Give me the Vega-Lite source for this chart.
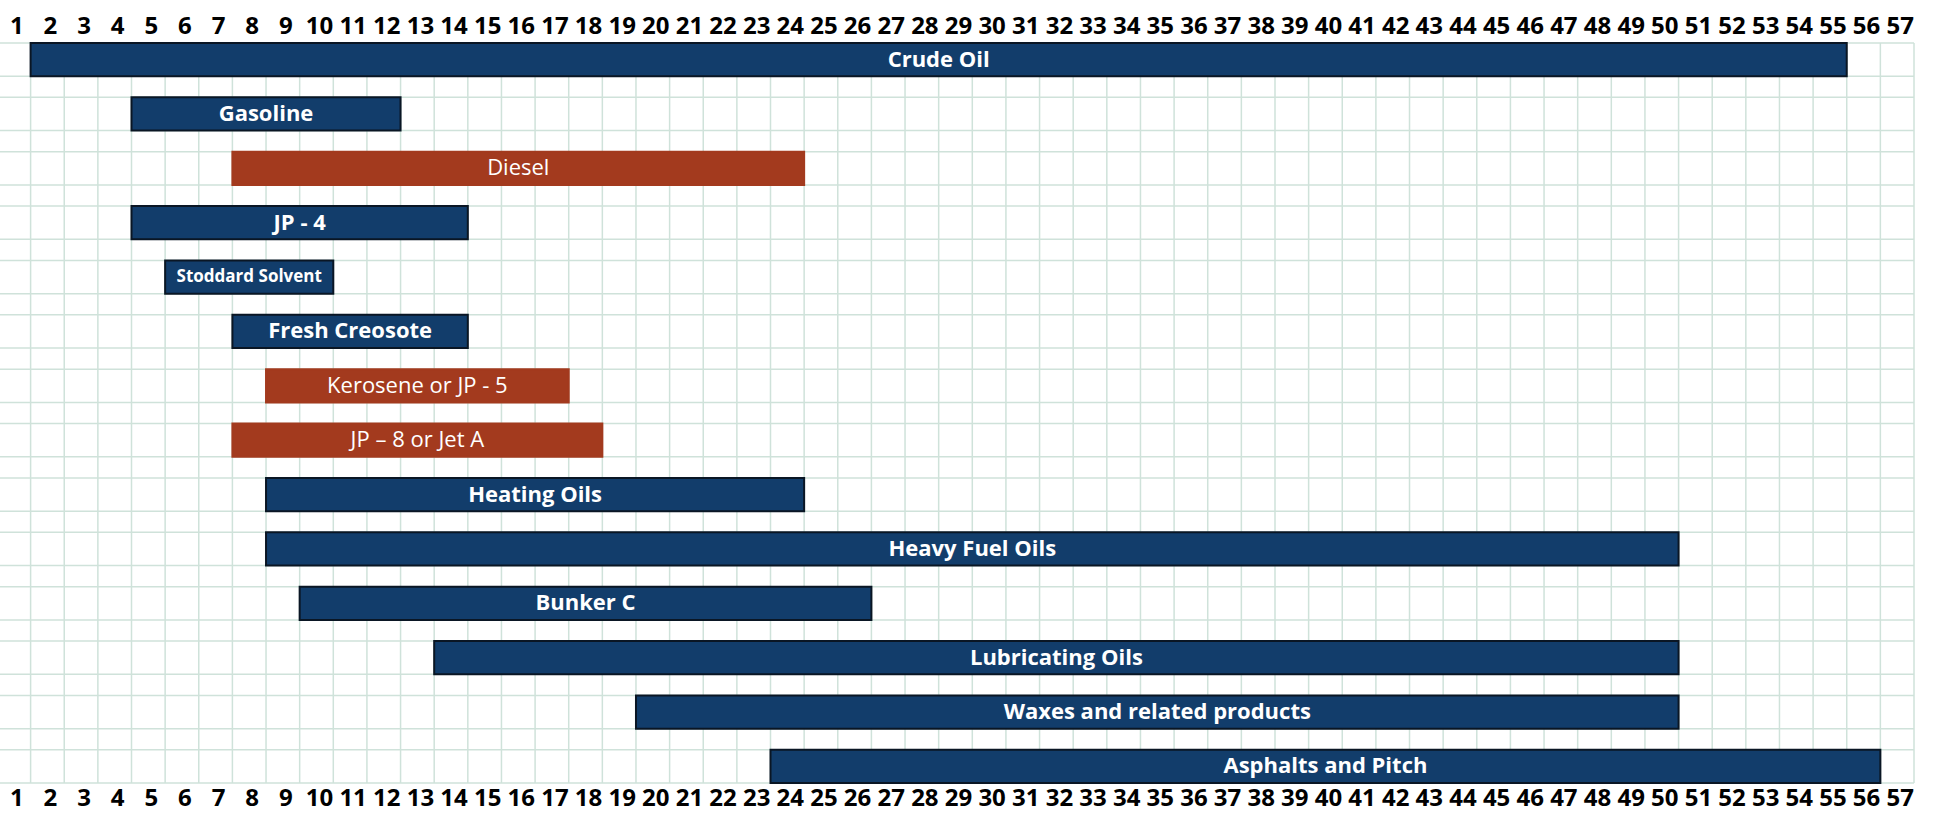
{
  "$schema": "https://vega.github.io/schema/vega-lite/v6.json",
  "width": 1914,
  "height": 740,
  "autosize": {"type": "none"},
  "padding": {"left": 0, "top": 43, "right": 20, "bottom": 34},
  "background": "white",
  "config": {"view": {"stroke": null}, "font": "Open Sans"},
  "datasets": {
    "products": [
      {"product": "Crude Oil", "lo": 1.5, "hi": 55.5, "mid": 28.5, "category": "Other"},
      {"product": "Gasoline", "lo": 4.5, "hi": 12.5, "mid": 8.5, "category": "Other"},
      {"product": "Diesel", "lo": 7.5, "hi": 24.5, "mid": 16, "category": "Highlighted"},
      {"product": "JP - 4", "lo": 4.5, "hi": 14.5, "mid": 9.5, "category": "Other"},
      {"product": "Stoddard Solvent", "lo": 5.5, "hi": 10.5, "mid": 8, "category": "Other"},
      {"product": "Fresh Creosote", "lo": 7.5, "hi": 14.5, "mid": 11, "category": "Other"},
      {"product": "Kerosene or JP - 5", "lo": 8.5, "hi": 17.5, "mid": 13, "category": "Highlighted"},
      {"product": "JP – 8 or Jet A", "lo": 7.5, "hi": 18.5, "mid": 13, "category": "Highlighted"},
      {"product": "Heating Oils", "lo": 8.5, "hi": 24.5, "mid": 16.5, "category": "Other"},
      {"product": "Heavy Fuel Oils", "lo": 8.5, "hi": 50.5, "mid": 29.5, "category": "Other"},
      {"product": "Bunker C", "lo": 9.5, "hi": 26.5, "mid": 18, "category": "Other"},
      {"product": "Lubricating Oils", "lo": 13.5, "hi": 50.5, "mid": 32, "category": "Other"},
      {"product": "Waxes and related products", "lo": 19.5, "hi": 50.5, "mid": 35, "category": "Other"},
      {"product": "Asphalts and Pitch", "lo": 23.5, "hi": 56.5, "mid": 40, "category": "Other"}
    ],
    "grid": [
      {"c": 1.5}, {"c": 2.5}, {"c": 3.5}, {"c": 4.5}, {"c": 5.5}, {"c": 6.5}, {"c": 7.5}, {"c": 8.5}, {"c": 9.5}, {"c": 10.5},
      {"c": 11.5}, {"c": 12.5}, {"c": 13.5}, {"c": 14.5}, {"c": 15.5}, {"c": 16.5}, {"c": 17.5}, {"c": 18.5}, {"c": 19.5}, {"c": 20.5},
      {"c": 21.5}, {"c": 22.5}, {"c": 23.5}, {"c": 24.5}, {"c": 25.5}, {"c": 26.5}, {"c": 27.5}, {"c": 28.5}, {"c": 29.5}, {"c": 30.5},
      {"c": 31.5}, {"c": 32.5}, {"c": 33.5}, {"c": 34.5}, {"c": 35.5}, {"c": 36.5}, {"c": 37.5}, {"c": 38.5}, {"c": 39.5}, {"c": 40.5},
      {"c": 41.5}, {"c": 42.5}, {"c": 43.5}, {"c": 44.5}, {"c": 45.5}, {"c": 46.5}, {"c": 47.5}, {"c": 48.5}, {"c": 49.5}, {"c": 50.5},
      {"c": 51.5}, {"c": 52.5}, {"c": 53.5}, {"c": 54.5}, {"c": 55.5}, {"c": 56.5}, {"c": 57.5}
    ]
  },
  "resolve": {"axis": {"x": "independent"}},
  "layer": [
    {
      "data": {"name": "grid"},
      "mark": {"type": "rule", "color": "#cfe2da", "strokeWidth": 1.5},
      "encoding": {
        "x": {
          "field": "c", "type": "quantitative",
          "scale": {"domain": [0.59, 57.5], "nice": false, "zero": false},
          "axis": {
            "orient": "top", "title": null,
            "values": [1,2,3,4,5,6,7,8,9,10,11,12,13,14,15,16,17,18,19,20,21,22,23,24,25,26,27,28,29,30,31,32,33,34,35,36,37,38,39,40,41,42,43,44,45,46,47,48,49,50,51,52,53,54,55,56,57],
            "grid": false, "domain": false, "ticks": false,
            "labelFont": "Open Sans", "labelFontWeight": "bold", "labelFontSize": 24, "labelColor": "#000000",
            "labelPadding": 5, "labelOffset": 2.5, "labelFlush": false, "labelOverlap": false, "labelBound": false
          }
        }
      }
    },
    {
      "data": {"name": "products"},
      "mark": {"type": "rule", "color": "#cfe2da", "strokeWidth": 1.5},
      "encoding": {
        "y": {"field": "product", "type": "nominal", "sort": null, "bandPosition": 0,
              "scale": {"paddingInner": 0.39, "paddingOuter": 0}, "axis": null}
      }
    },
    {
      "data": {"name": "products"},
      "mark": {"type": "rule", "color": "#cfe2da", "strokeWidth": 1.5},
      "encoding": {
        "y": {"field": "product", "type": "nominal", "sort": null, "bandPosition": 1, "axis": null}
      }
    },
    {
      "data": {"name": "products"},
      "mark": {"type": "bar", "strokeWidth": 2, "cornerRadius": 0},
      "encoding": {
        "y": {"field": "product", "type": "nominal", "sort": null, "axis": null},
        "x": {
          "field": "lo", "type": "quantitative",
          "axis": {
            "orient": "bottom", "title": null,
            "values": [1,2,3,4,5,6,7,8,9,10,11,12,13,14,15,16,17,18,19,20,21,22,23,24,25,26,27,28,29,30,31,32,33,34,35,36,37,38,39,40,41,42,43,44,45,46,47,48,49,50,51,52,53,54,55,56,57],
            "grid": false, "domain": false, "ticks": false,
            "labelFont": "Open Sans", "labelFontWeight": "bold", "labelFontSize": 24, "labelColor": "#000000",
            "labelPadding": 3, "labelOffset": 2.5, "labelFlush": false, "labelOverlap": false, "labelBound": false
          }
        },
        "x2": {"field": "hi"},
        "color": {"field": "category", "type": "nominal",
                  "scale": {"domain": ["Other", "Highlighted"], "range": ["#123d6b", "#a33a1e"]}, "legend": null},
        "stroke": {"field": "category", "type": "nominal",
                   "scale": {"domain": ["Other", "Highlighted"], "range": ["#0a1624", "#a33a1e"]}, "legend": null}
      }
    },
    {
      "data": {"name": "products"},
      "transform": [
        {"filter": {"field": "category", "equal": "Other"}},
        {"filter": {"not": {"field": "product", "equal": "Stoddard Solvent"}}}
      ],
      "mark": {"type": "text", "color": "white", "font": "Open Sans", "fontWeight": "bold", "fontSize": 22, "align": "center", "baseline": "middle"},
      "encoding": {
        "y": {"field": "product", "type": "nominal", "sort": null, "bandPosition": 0.5, "axis": null},
        "x": {"field": "mid", "type": "quantitative", "axis": null},
        "text": {"field": "product"}
      }
    },
    {
      "data": {"name": "products"},
      "transform": [{"filter": {"field": "product", "equal": "Stoddard Solvent"}}],
      "mark": {"type": "text", "color": "white", "font": "Open Sans", "fontWeight": "bold", "fontSize": 17, "align": "center", "baseline": "middle"},
      "encoding": {
        "y": {"field": "product", "type": "nominal", "sort": null, "bandPosition": 0.5, "axis": null},
        "x": {"field": "mid", "type": "quantitative", "axis": null},
        "text": {"field": "product"}
      }
    },
    {
      "data": {"name": "products"},
      "transform": [{"filter": {"field": "category", "equal": "Highlighted"}}],
      "mark": {"type": "text", "color": "white", "font": "Open Sans", "fontWeight": "normal", "fontSize": 22, "align": "center", "baseline": "middle"},
      "encoding": {
        "y": {"field": "product", "type": "nominal", "sort": null, "bandPosition": 0.5, "axis": null},
        "x": {"field": "mid", "type": "quantitative", "axis": null},
        "text": {"field": "product"}
      }
    }
  ]
}
